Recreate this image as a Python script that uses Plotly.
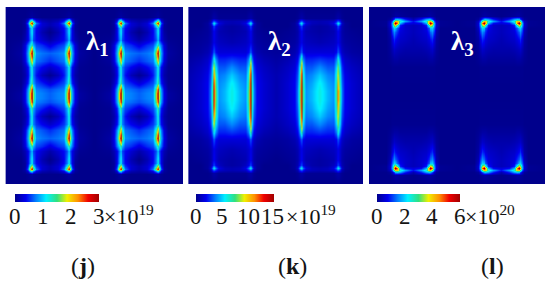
import plotly.graph_objects as go

W, H = 550, 283
SERIF = "Liberation Serif"

JET = [[0, "#00008c"], [0.13, "#0000f0"], [0.25, "#0080ff"], [0.37, "#00f0ff"],
       [0.5, "#30e080"], [0.62, "#f0f000"], [0.75, "#ff9000"], [0.87, "#f00000"], [1, "#a00000"]]

# ---- panel (j): one half-cell of the field, fraction of full scale, top half
J_X = [0, 15, 19, 22, 24, 25.5, 27, 30, 36, 44]
J_Y = [0, 10, 13, 15.5, 18, 21, 25, 33, 38, 46, 54, 60, 68, 76, 82, 86]
J_Z = [
    [0, 0, 0, 0, 0, 0, 0, 0, 0, 0],
    [0, 0, 0, .01, .02, .03, .02, .01, 0, 0],
    [0, 0, .02, .10, .30, .40, .26, .12, .05, .03],
    [0, 0, .03, .22, .62, .95, .58, .24, .09, .05],
    [0, 0, .02, .16, .42, .62, .38, .18, .09, .05],
    [0, 0, .02, .12, .26, .38, .24, .14, .07, .02],
    [0, 0, .03, .12, .26, .38, .24, .13, .05, 0],
    [0, .01, .05, .12, .22, .32, .20, .14, .09, .04],
    [0, .02, .10, .24, .34, .48, .32, .20, .17, .11],
    [0, .03, .12, .30, .62, 1, .58, .27, .24, .22],
    [0, .02, .10, .26, .44, .68, .42, .24, .21, .17],
    [0, .01, .06, .14, .28, .40, .26, .18, .13, .08],
    [0, .01, .04, .12, .26, .40, .26, .15, .06, .01],
    [0, .01, .07, .16, .32, .48, .30, .20, .16, .10],
    [0, .02, .11, .28, .52, .85, .50, .25, .23, .20],
    [0, .03, .12, .30, .62, 1, .58, .27, .25, .22],
]
J_WALLS = [None, None, None, None]

# ---- panel (k)
K_X = [0, 12, 19, 22, 24, 25.5, 27, 30, 36, 44]
K_Y = [0, 11, 14, 16, 19, 24, 35, 45, 52, 60, 68, 76, 84]
K_Z = [
    [0, 0, 0, 0, 0, 0, 0, 0, 0, 0],
    [0, 0, 0, .01, .03, .04, .03, .01, .01, .01],
    [0, 0, .01, .05, .16, .22, .16, .08, .06, .05],
    [0, 0, .02, .08, .26, .40, .24, .11, .06, .05],
    [0, 0, .02, .05, .13, .20, .12, .07, .04, .03],
    [0, .01, .02, .04, .09, .13, .09, .05, .04, .03],
    [.01, .02, .03, .05, .09, .12, .09, .07, .06, .05],
    [.02, .03, .05, .08, .15, .22, .14, .10, .10, .10],
    [.03, .05, .08, .13, .26, .45, .26, .16, .16, .18],
    [.04, .07, .10, .18, .36, .70, .36, .21, .21, .26],
    [.05, .08, .12, .21, .42, .85, .44, .24, .26, .33],
    [.05, .09, .13, .23, .46, .95, .48, .26, .29, .38],
    [.05, .09, .13, .25, .50, 1, .52, .27, .31, .40],
]
K_WALL1 = [0, .04, .22, .40, .20, .13, .12, .22, .40, .60, .75, .85, .90]
K_WALL2 = [0, .04, .22, .40, .20, .13, .12, .22, .50, .75, .90, 1, 1]
K_WALL3 = [0, .04, .22, .40, .20, .13, .12, .22, .50, .75, .90, .98, 1]
K_WALL4 = [0, .04, .22, .40, .20, .13, .12, .22, .42, .55, .62, .70, .78]
K_WALLS = [K_WALL1, K_WALL2, K_WALL3, K_WALL4]

# ---- panel (l)
L_X = [0, 17, 21, 23, 25, 26.5, 28, 31, 36, 44]
L_Y = [0, 9, 12, 14, 16, 18, 21, 25, 32, 42, 52, 60, 86]
L_Z = [
    [0, 0, 0, 0, 0, 0, 0, 0, 0, 0],
    [0, 0, 0, .01, .02, .03, .03, .02, .01, 0],
    [0, 0, .02, .08, .20, .30, .32, .28, .16, .05],
    [0, .01, .07, .22, .50, .68, .68, .42, .28, .14],
    [0, .01, .09, .30, .78, 1, .78, .30, .14, .10],
    [0, .01, .09, .28, .55, .66, .45, .16, .08, .06],
    [0, 0, .07, .22, .34, .32, .22, .12, .08, .06],
    [0, 0, .05, .17, .26, .22, .17, .10, .08, .06],
    [0, 0, .03, .10, .17, .14, .11, .08, .07, .05],
    [0, 0, .02, .05, .08, .07, .06, .05, .04, .04],
    [0, 0, .01, .02, .03, .03, .03, .02, .02, .02],
    [0, 0, 0, .005, .005, .005, .005, .005, .005, .005],
    [0, 0, 0, 0, 0, 0, 0, 0, 0, 0],
]
L_WALLS = [None, None, None, None]

J_TICKS, K_TICKS, L_TICKS = [0, 1, 2, 3], [0, 5, 10, 15], [0, 2, 4, 6]
J_EXP, K_EXP, L_EXP = "×10<sup>19</sup>", "×10<sup>19</sup>", "×10<sup>20</sup>"
NAMES = ["<b>λ<sub>1</sub></b>", "<b>λ<sub>2</sub></b>", "<b>λ<sub>3</sub></b>"]
LETTERS = ["(<b>j</b>)", "(<b>k</b>)", "(<b>l</b>)"]

BLOCK_STEP = 88.8
PANEL_H = 177.0


def field(xs, ys, half, walls, zmax):
    """Lay the read half-cell out over the two cells and both halves of the panel."""
    cx = xs[-1]
    full_x = xs + [2 * cx - v for v in xs[-2::-1]]
    x = full_x + [v + BLOCK_STEP for v in full_x]
    rows = []
    for r, row in enumerate(half):
        a, b = list(row), list(row)
        if walls[0] is not None:
            a[5], b[5] = walls[0][r], walls[2][r]
            a2, b2 = list(row), list(row)
            a2[5], b2[5] = walls[1][r], walls[3][r]
        else:
            a2, b2 = a, b
        rows.append(a + a2[-2::-1] + b + b2[-2::-1])
    y = ys + [PANEL_H - v for v in ys[::-1]]
    z = rows + rows[::-1]
    return x, y, [[v * zmax for v in r] for r in z]


PANELS = [
    dict(x=J_X, y=J_Y, z=J_Z, w=J_WALLS, tk=J_TICKS, exp=J_EXP, px=(5.7, 183), bar=(15, 99), expx=102, namex=97, letx=83),
    dict(x=K_X, y=K_Y, z=K_Z, w=K_WALLS, tk=K_TICKS, exp=K_EXP, px=(188.5, 363), bar=(196, 274), expx=284, namex=279, letx=292),
    dict(x=L_X, y=L_Y, z=L_Z, w=L_WALLS, tk=L_TICKS, exp=L_EXP, px=(369, 545), bar=(377, 460), expx=463, namex=462, letx=492),
]


def label(text, x_px, y_px, size, color="#141414", xanchor="center"):
    return dict(text=text, x=x_px / W, y=1 - y_px / H, xanchor=xanchor, yanchor="middle",
                font=dict(family=SERIF, size=size, color=color), xref="paper", yref="paper", showarrow=False)


fig = go.Figure()
annotations = []
for i, p in enumerate(PANELS):
    n = i + 1
    xs, ys, zs = field(p["x"], p["y"], p["z"], p["w"], p["tk"][-1])
    fig.add_trace(go.Heatmap(
        x=xs, y=ys, z=zs, zmin=0, zmax=p["tk"][-1], zsmooth="best", colorscale=JET,
        xaxis=f"x{n}", yaxis=f"y{n}",
        colorbar=dict(
            orientation="h", x=p["bar"][0] / W, xanchor="left", xref="paper",
            y=1 - 194 / H, yanchor="top", yref="paper", xpad=0, ypad=0,
            lenmode="pixels", len=p["bar"][1] - p["bar"][0], thicknessmode="pixels", thickness=8,
            outlinewidth=0, showticklabels=False, ticks="",
        ),
    ))
    suffix = "" if n == 1 else str(n)
    dom = [p["px"][0] / W, p["px"][1] / W]
    fig.layout["xaxis" + suffix] = dict(domain=dom, range=[0, 2 * p["x"][-1] + BLOCK_STEP], visible=False, anchor="y" + suffix)
    fig.layout["yaxis" + suffix] = dict(domain=[1 - 184 / H, 1 - 7 / H], range=[PANEL_H, 0], visible=False, anchor="x" + suffix)
    left, right = p["bar"]
    for t in p["tk"]:
        c = left + (right - left) * t / p["tk"][-1]
        if t == 15:
            c -= 2
        annotations.append(label(str(t), c, 216, 23))
    annotations += [
        label(NAMES[i], p["namex"], 43, 27, color="white"),
        label(p["exp"], p["expx"], 215, 22, xanchor="left"),
        label(LETTERS[i], p["letx"], 266, 24),
    ]

fig.update_layout(
    width=W, height=H, margin=dict(l=0, r=0, t=0, b=0, autoexpand=False),
    paper_bgcolor="white", plot_bgcolor="#00008c", annotations=annotations,
)
fig.write_html("out.html", post_script="document.body.style.margin='0';", config=dict(displayModeBar=False))
